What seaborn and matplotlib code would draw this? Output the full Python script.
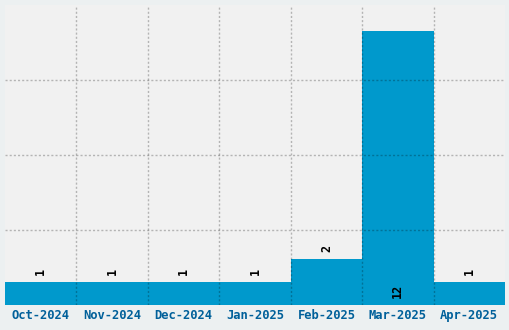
import matplotlib
matplotlib.use("Agg")
import matplotlib.pyplot as plt
import seaborn as sns
import pandas as pd

months = ["Oct-2024", "Nov-2024", "Dec-2024", "Jan-2025", "Feb-2025", "Mar-2025", "Apr-2025"]
counts = [1, 1, 1, 1, 2, 12, 1]

sns.set_theme(style="white")
plt.rcParams['font.family'] = ['DejaVu Sans Mono']

df = pd.DataFrame({"month": months, "count": counts})

fig = plt.figure(figsize=(5.1, 3.3), dpi=100, facecolor="#ecf0f1")
ax = fig.add_axes([5/510, 25/330, 500/510, 300/330])
ax.set_facecolor("#f1f1f1")
sns.barplot(data=df, x="month", y="count", color="#0099cc", width=1.0,
            saturation=1, linewidth=0, edgecolor="none", ax=ax, zorder=1)
ax.set_xlim(-0.5, len(months) - 0.5)
ymax = 13.15
ax.set_ylim(0, ymax)
ax.set_yticks([ymax/4, ymax/2, 3*ymax/4])
ax.set_yticklabels([])
ax.set_xticks([i + 0.5 for i in range(len(months) - 1)], minor=True)
ax.grid(False)
gkw = dict(linestyle=(0, (1.5, 1.5)), color="black", alpha=0.25, linewidth=1)
ax.grid(True, which="minor", axis="x", **gkw)
ax.grid(True, which="major", axis="y", **gkw)
ax.set_axisbelow(False)
for p in ax.patches:
    p.set_zorder(1)
for s in ax.spines.values():
    s.set_visible(False)
ax.tick_params(axis="x", which="both", length=0, pad=3, labelsize=8.7, labelcolor="#00609a")
ax.tick_params(axis="y", length=0)
for lbl in ax.get_xticklabels():
    lbl.set_fontweight("bold")
ax.set_xlabel("")
ax.set_ylabel("")

for i, c in enumerate(counts):
    if c >= 6:
        ax.annotate(str(c), (i, 0), xytext=(0, 5), textcoords="offset points",
                    rotation=90, ha="center", va="bottom", fontsize=8.5, color="black",
                    fontweight="bold", zorder=5)
    else:
        ax.annotate(str(c), (i, c), xytext=(0, 5), textcoords="offset points",
                    rotation=90, ha="center", va="bottom", fontsize=8.5, color="black",
                    fontweight="bold", zorder=5)

fig.savefig("out.png", dpi=100, facecolor=fig.get_facecolor())
